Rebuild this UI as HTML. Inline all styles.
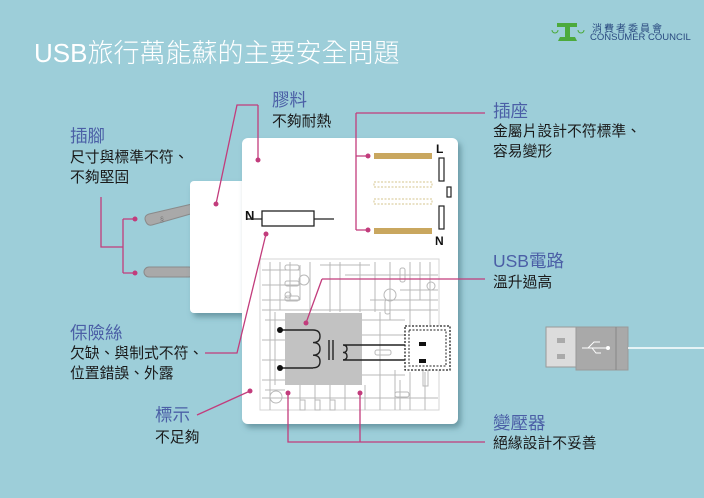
<!DOCTYPE html>
<html><head><meta charset="utf-8"><style>
html,body{margin:0;padding:0}
body{width:704px;height:498px;background:#9dced9;position:relative;overflow:hidden;font-family:"Liberation Sans","Noto Sans CJK TC",sans-serif}
.t{position:absolute;white-space:nowrap}
.h{color:#4b5fa6;font-size:17.5px;line-height:20px}
.b{color:#1a1a1a;font-size:14.8px;line-height:20px}
</style></head><body>
<svg width="704" height="498" style="position:absolute;left:0;top:0">
<defs><filter id="sh" x="-10%" y="-10%" width="130%" height="130%"><feDropShadow dx="3" dy="4" stdDeviation="3" flood-color="#3d6c78" flood-opacity="0.55"/></filter></defs>
<g fill="#a9a9a9" stroke="#8a8a8a" stroke-width="1">
<path d="M146 222 Q143 216 149 214 L192 204 L194 213 L152 225 Q148 226 146 222Z"/>
<rect x="144" y="267" width="50" height="10" rx="5"/>
</g>
<text x="160" y="222" font-size="7" fill="#777">§</text>
<rect x="190" y="181" width="60" height="132" rx="4" fill="#fff" filter="url(#sh)"/>
<rect x="242" y="138" width="216" height="286" rx="6" fill="#fff" filter="url(#sh)"/>
<g stroke="#b9b9b9" stroke-width="1" fill="none">
<rect x="260" y="259" width="179" height="151" stroke="#d6d6d6"/>
<path d="M262 270H300M262 285H300M262 300H300M265 320H285M262 340H285M262 360H285M262 380H285M262 398H438M300 265V300M280 262V310M270 262V410M290 262V300M310 262V312M320 265H370M330 262V312M345 275H438M360 262V312M375 262V312M390 262V320M400 290H438M410 262V325M420 262V300M430 262V325M370 300H438M362 320H405M362 335H405M362 375H405M380 312V410M395 370V410M410 372V410M425 372V410M300 385V410M315 385V410M330 385V410M345 385V410M365 385V410M265 390H285M275 312V385M262 310H438M340 262V312M400 380V410"/>
<rect x="285" y="265" width="14" height="5" rx="2"/><rect x="285" y="281" width="14" height="5" rx="2"/><rect x="285" y="296" width="14" height="5" rx="2"/>
<rect x="400" y="268" width="5" height="14" rx="2"/><rect x="385" y="300" width="5" height="14" rx="2"/><rect x="375" y="350" width="16" height="5" rx="2"/>
<rect x="300" y="400" width="5" height="10"/><rect x="315" y="400" width="5" height="10"/><rect x="330" y="400" width="5" height="10"/><rect x="395" y="392" width="14" height="5" rx="2"/>
<rect x="423" y="370" width="5" height="16"/>
<circle cx="304" cy="280" r="5"/><circle cx="390" cy="295" r="6"/><circle cx="431" cy="286" r="4"/><circle cx="276" cy="397" r="6"/><circle cx="288" cy="295" r="3"/>
</g>
<rect x="285" y="313" width="77" height="72" fill="#c2c2c2"/>
<g stroke="#222" stroke-width="1.4" fill="none">
<path d="M280 330H313M280 368H313"/>
<path d="M313 330 q7 0 7 6.3 q0 6.3 -7 6.3 q7 0 7 6.3 q0 6.3 -7 6.3 q7 0 7 6.3 q0 6.3 -7 6.3"/>
<path d="M329 340V360M333 340V360"/>
<path d="M343 345 q4 0 4 3.7 q0 3.7 -4 3.7 q4 0 4 3.7 q0 3.7 -4 3.7M343 345H405M343 360H405"/>
</g>
<circle cx="280" cy="330" r="3" fill="#111"/><circle cx="280" cy="368" r="3" fill="#111"/>
<rect x="405" y="326" width="45" height="44" fill="#fff" stroke="#222" stroke-width="1.3" stroke-dasharray="2,1.5"/>
<rect x="409" y="330" width="37" height="36" fill="none" stroke="#222" stroke-width="1" stroke-dasharray="2,1.5"/>
<rect x="419" y="342" width="7" height="4" fill="#111"/><rect x="419" y="359" width="7" height="4" fill="#111"/>
<text x="245" y="220" font-size="13" font-weight="bold" fill="#111">N</text>
<path d="M247 219H334" stroke="#222" stroke-width="1.3"/>
<rect x="262" y="211" width="52" height="15" fill="#fff" stroke="#222" stroke-width="1.3"/>
<rect x="374" y="153" width="58" height="6" fill="#c9a75f"/>
<rect x="374" y="228" width="58" height="6" fill="#c9a75f"/>
<rect x="374" y="182" width="58" height="5" fill="none" stroke="#d4c48e" stroke-dasharray="2,1.5"/>
<rect x="374" y="199" width="58" height="5" fill="none" stroke="#d4c48e" stroke-dasharray="2,1.5"/>
<g fill="#fff" stroke="#222" stroke-width="1.2"><rect x="439" y="158" width="5" height="23"/><rect x="447" y="187" width="4" height="10"/><rect x="439" y="206" width="5" height="23"/></g>
<text x="436" y="153" font-size="12" font-weight="bold" fill="#111">L</text>
<text x="435" y="245" font-size="12" font-weight="bold" fill="#111">N</text>
<g stroke="#c23c7c" stroke-width="1.3" fill="none">
<path d="M258 105H237L216 204M258 105V160"/>
<path d="M356 113H485M356 113V230M356 156H368M356 230H368"/>
<path d="M101 197V247H123M123 219V273M123 219H135M123 273H135"/>
<path d="M205 353H237L266 234"/>
<path d="M197 415L250 391"/>
<path d="M322 279H485M322 279L306 323"/>
<path d="M288 393V442H485M360 393V442"/>
</g>
<g fill="#c23c7c"><circle cx="258" cy="160" r="2.5"/><circle cx="216" cy="204" r="2.5"/><circle cx="368" cy="156" r="2.5"/><circle cx="368" cy="230" r="2.5"/><circle cx="135" cy="219" r="2.5"/><circle cx="135" cy="273" r="2.5"/><circle cx="266" cy="234" r="2.5"/><circle cx="250" cy="391" r="2.5"/><circle cx="306" cy="323" r="2.5"/><circle cx="288" cy="393" r="2.5"/><circle cx="360" cy="393" r="2.5"/></g>
<rect x="546" y="327" width="30" height="40" fill="#dcdcdc" stroke="#999"/>
<rect x="557" y="338" width="8" height="5" fill="#aaa"/><rect x="557" y="354" width="8" height="5" fill="#aaa"/>
<rect x="576" y="327" width="52" height="43" fill="#a9a9a9" stroke="#999"/>
<path d="M616 327V370" stroke="#888"/>
<path d="M628 348H704" stroke="#fff" stroke-width="1.5"/>
<g stroke="#fff" stroke-width="1" fill="none"><path d="M582 348H608M588 348L594 342H600M592 348L596 353H601"/></g>
<circle cx="608" cy="348" r="2" fill="#fff"/>
<g fill="#4caa3c"><rect x="557" y="23" width="20" height="4"/><rect x="565" y="27" width="5" height="10"/><path d="M560 37H575L577 41H558Z"/></g>
<g stroke="#4caa3c" fill="none"><path d="M552 30a3 3 0 0 0 6 0M578 30a3 3 0 0 0 6 0"/></g>
</svg>
<div class="t" style="left:34px;top:33px;font-size:26px;color:#fff;font-weight:300">USB旅行萬能蘇的主要安全問題</div>
<div class="t" style="left:592px;top:20px;font-size:10px;color:#2a4a80;letter-spacing:2px">消費者委員會</div>
<div class="t" style="left:590px;top:32px;font-size:9.5px;color:#2a4a80">CONSUMER COUNCIL</div>
<div class="t h" style="left:272px;top:90px">膠料</div>
<div class="t b" style="left:272px;top:112px">不夠耐熱</div>
<div class="t h" style="left:70px;top:126px">插腳</div>
<div class="t b" style="left:70px;top:148px">尺寸與標準不符、</div>
<div class="t b" style="left:70px;top:168px">不夠堅固</div>
<div class="t h" style="left:493px;top:101px">插座</div>
<div class="t b" style="left:493px;top:122px">金屬片設計不符標準、</div>
<div class="t b" style="left:493px;top:142px">容易變形</div>
<div class="t h" style="left:493px;top:251px">USB電路</div>
<div class="t b" style="left:493px;top:273px">溫升過高</div>
<div class="t h" style="left:70px;top:323px">保險絲</div>
<div class="t b" style="left:70px;top:344px">欠缺、與制式不符、</div>
<div class="t b" style="left:70px;top:364px">位置錯誤、外露</div>
<div class="t h" style="left:155px;top:405px">標示</div>
<div class="t b" style="left:155px;top:428px">不足夠</div>
<div class="t h" style="left:493px;top:413px">變壓器</div>
<div class="t b" style="left:493px;top:434px">絕緣設計不妥善</div>
</body></html>
